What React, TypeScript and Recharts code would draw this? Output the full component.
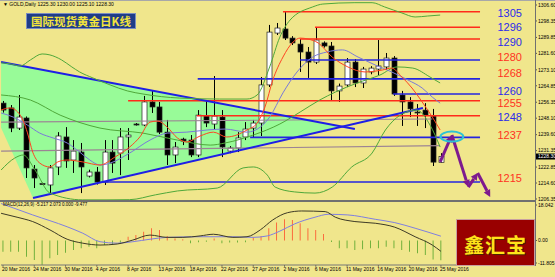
import React from 'react'
import { ComposedChart, Bar, Line, Area, XAxis, YAxis, ReferenceLine, ReferenceDot, Cell } from 'recharts'

// daily bars, broker feed with sunday sessions
const dates = [
  '20 Mar 2016', '21 Mar 2016', '22 Mar 2016', '23 Mar 2016', '24 Mar 2016', '27 Mar 2016', '28 Mar 2016', '29 Mar 2016',
  '30 Mar 2016', '31 Mar 2016', '1 Apr 2016', '3 Apr 2016', '4 Apr 2016', '5 Apr 2016', '6 Apr 2016', '7 Apr 2016',
  '8 Apr 2016', '10 Apr 2016', '11 Apr 2016', '12 Apr 2016', '13 Apr 2016', '14 Apr 2016', '15 Apr 2016', '17 Apr 2016',
  '18 Apr 2016', '19 Apr 2016', '20 Apr 2016', '21 Apr 2016', '22 Apr 2016', '24 Apr 2016', '25 Apr 2016', '26 Apr 2016',
  '27 Apr 2016', '28 Apr 2016', '29 Apr 2016', '1 May 2016', '2 May 2016', '3 May 2016', '4 May 2016', '5 May 2016',
  '6 May 2016', '8 May 2016', '9 May 2016', '10 May 2016', '11 May 2016', '12 May 2016', '13 May 2016', '15 May 2016',
  '16 May 2016', '17 May 2016', '18 May 2016', '19 May 2016', '20 May 2016', '22 May 2016', '23 May 2016', '24 May 2016',
  '25 May 2016',
]
const dateTicks = [0, 4, 8, 12, 16, 20, 24, 28, 32, 36, 40, 44, 48, 52, 56]

const open = [1255.9, 1253.4, 1243.0, 1248.2, 1221.8, 1214.3, 1213.6, 1222.9, 1238.4, 1226.5, 1230.6, 1218.2, 1220.3, 1215.1, 1230.6, 1230.1, 1238.4, 1245.1, 1244.6, 1256.5, 1253.9, 1240.9, 1229.1, 1237.3, 1236.8, 1229.1, 1249.2, 1245.1, 1248.7, 1231.1, 1232.7, 1238.4, 1243.0, 1245.6, 1265.3, 1292.1, 1294.2, 1289.5, 1286.4, 1282.3, 1277.1, 1287.0, 1285.4, 1262.2, 1265.3, 1277.1, 1266.3, 1272.0, 1273.5, 1274.6, 1279.2, 1260.1, 1256.5, 1251.3, 1252.3, 1249.2, 1225.3]
const high = [1257.0, 1254.9, 1260.1, 1249.0, 1223.9, 1214.8, 1223.9, 1240.9, 1243.5, 1236.8, 1235.3, 1221.5, 1222.9, 1236.8, 1236.8, 1243.0, 1243.0, 1245.6, 1259.6, 1262.2, 1256.5, 1247.2, 1235.8, 1238.0, 1239.4, 1252.3, 1257.0, 1269.9, 1252.3, 1233.7, 1240.9, 1246.1, 1247.2, 1269.4, 1296.3, 1297.3, 1303.0, 1290.5, 1289.0, 1284.9, 1295.2, 1287.8, 1287.5, 1266.0, 1279.2, 1278.7, 1274.6, 1275.0, 1288.5, 1281.8, 1280.2, 1262.2, 1259.0, 1255.4, 1255.9, 1252.9, 1230.0]
const low = [1251.0, 1240.9, 1242.0, 1217.2, 1212.0, 1213.6, 1208.9, 1218.7, 1222.4, 1219.8, 1209.4, 1217.5, 1213.8, 1213.6, 1219.8, 1218.7, 1226.5, 1244.3, 1244.0, 1250.8, 1239.9, 1223.9, 1224.9, 1234.2, 1228.0, 1228.0, 1243.5, 1242.0, 1228.0, 1230.0, 1230.6, 1236.8, 1238.4, 1238.9, 1264.2, 1291.1, 1288.5, 1285.9, 1272.0, 1268.9, 1276.1, 1284.6, 1257.5, 1256.5, 1264.2, 1264.2, 1263.7, 1270.8, 1270.4, 1273.0, 1259.6, 1244.1, 1248.7, 1244.1, 1243.0, 1223.4, 1225.1]
const close = [1252.3, 1243.0, 1248.7, 1222.4, 1217.2, 1214.0, 1222.4, 1238.9, 1226.0, 1231.1, 1222.9, 1220.3, 1215.1, 1230.6, 1224.9, 1238.4, 1239.4, 1244.8, 1256.5, 1253.9, 1240.9, 1229.1, 1233.2, 1236.3, 1229.1, 1249.7, 1245.6, 1249.2, 1233.2, 1232.7, 1237.9, 1242.5, 1245.6, 1265.3, 1292.6, 1294.7, 1289.5, 1287.0, 1282.3, 1277.1, 1288.5, 1285.4, 1262.2, 1264.7, 1277.1, 1266.3, 1273.5, 1274.0, 1275.1, 1279.2, 1260.6, 1256.5, 1252.9, 1250.8, 1249.7, 1225.4, 1228.3]

// MACD histogram per bar
const macdHist = [-5.4, -5.4, -5.4, -7.8, -9.4, -11.805, -8.6, -7.0, -5.9, -4.6, -3.8, -3.0, -3.8, -2.2, -2.2, -1.1, 1.8, 2.6, 4.2, 5.9, 5.1, 2.2, 1.0, 0.6, -1.3, -0.9, -0.6, 1.0, -1.3, -1.0, -1.0, -0.9, 1.5, 2.2, 5.9, 8.7, 10.2, 9.9, 8.3, 5.9, 5.1, 3.1, -0.7, -3.8, -3.8, -4.6, -4.2, -3.8, -3.8, -3.0, -3.8, -4.6, -5.4, -6.2, -7.0, -9.1, -9.477]

// indicator lines as [bar position, value]
const maFast = [[-0.25, 1252.3], [0.9, 1253.4], [2.2, 1249.7], [3.1, 1240.9], [3.8, 1230.6], [4.7, 1224.9], [6.0, 1222.9], [7.0, 1225.5], [8.2, 1226.5], [10.2, 1225.5], [12.4, 1223.9], [14.3, 1228.0], [16.2, 1233.2], [17.5, 1238.4], [18.8, 1246.1], [19.8, 1246.6], [21.0, 1243.5], [22.3, 1237.9], [23.5, 1235.8], [25.2, 1238.9], [26.9, 1240.9], [28.6, 1238.4], [31.2, 1242.0], [32.5, 1245.6], [33.5, 1253.9], [34.5, 1267.8], [35.8, 1279.7], [37.1, 1287.5], [38.0, 1289.5], [39.0, 1289.0], [40.3, 1287.0], [42.1, 1279.7], [44.1, 1274.6], [46.3, 1272.0], [48.5, 1273.0], [49.7, 1274.0], [51.0, 1269.4], [52.3, 1263.7], [53.6, 1256.5], [54.9, 1248.7], [55.9, 1242.0]]
const maSlow = [[-0.25, 1250.8], [1.3, 1248.7], [3.1, 1244.6], [4.7, 1240.4], [6.4, 1237.9], [8.2, 1235.3], [9.8, 1230.6], [11.1, 1226.5], [12.4, 1223.9], [13.7, 1224.9], [16.2, 1230.1], [18.8, 1236.8], [21.0, 1240.4], [23.5, 1240.9], [26.1, 1242.0], [28.4, 1242.5], [31.2, 1240.9], [32.9, 1243.5], [34.1, 1248.7], [35.8, 1261.2], [37.6, 1272.0], [39.6, 1279.7], [41.4, 1282.3], [43.4, 1283.4], [45.4, 1279.7], [47.6, 1275.6], [49.7, 1272.0], [51.8, 1267.8], [53.6, 1263.7], [54.9, 1259.0], [55.9, 1255.9]]
const bandUp = [[-0.25, 1276.7], [0.9, 1276.2], [2.2, 1275.1], [3.5, 1278.2], [5.0, 1281.3], [6.0, 1280.8], [7.5, 1278.2], [8.8, 1274.6], [9.8, 1272.0], [11.5, 1268.9], [13.7, 1265.3], [15.9, 1262.2], [17.9, 1260.6], [22.6, 1258.5], [27.7, 1258.0], [31.2, 1258.0], [32.5, 1260.1], [34.1, 1274.6], [35.4, 1290.0], [36.7, 1298.8], [39.6, 1305.6], [40.9, 1307.1], [45.0, 1307.8], [47.2, 1307.8], [48.8, 1305.6], [51.0, 1302.5], [52.7, 1300.4], [54.3, 1300.9], [55.9, 1301.4]]
const bandMid = [[-0.25, 1260.1], [3.5, 1257.5], [7.3, 1249.7], [12.4, 1243.0], [17.9, 1240.4], [22.3, 1236.8], [26.5, 1234.2], [28.4, 1235.3], [32.0, 1239.4], [35.4, 1245.1], [38.0, 1251.3], [40.5, 1257.5], [42.5, 1261.6], [45.3, 1266.3], [48.2, 1270.4], [50.4, 1274.6], [52.4, 1274.0], [54.6, 1269.4], [55.9, 1266.3]]
const bandLow = [[-0.25, 1221.3], [1.5, 1227.5], [2.6, 1229.1], [4.1, 1221.3], [6.0, 1209.4], [10.2, 1205.9], [13.3, 1205.9], [16.2, 1206.0], [19.5, 1208.5], [22.3, 1210.5], [27.4, 1212.0], [30.7, 1222.4], [32.0, 1222.9], [33.8, 1218.7], [34.8, 1212.5], [37.3, 1210.0], [39.9, 1209.4], [42.1, 1212.5], [44.6, 1222.9], [47.2, 1230.1], [48.9, 1242.0], [50.8, 1249.7], [52.9, 1252.3], [54.6, 1244.6], [55.9, 1233.2]]
const dif = [[-0.25, 13.1], [1.8, 11.2], [3.8, 9.1], [6.0, 5.1], [8.2, 0.6], [10.2, -1.3], [12.4, -2.2], [14.6, -1.7], [16.6, 0.2], [18.8, 2.6], [21.0, 1.5], [23.0, 1.5], [25.2, 2.2], [26.9, 3.0], [29.4, 1.5], [31.2, 1.8], [32.9, 5.1], [34.5, 9.9], [36.4, 13.4], [38.2, 14.2], [41.2, 13.9], [42.5, 11.2], [45.0, 9.1], [47.6, 8.3], [50.1, 6.4], [52.7, 1.8], [54.9, -2.2], [56, -5.217]]
const dea = [[-0.25, 17.8], [3.8, 12.3], [8.2, 6.6], [10.2, 3.5], [12.4, -0.6], [14.6, -1.3], [16.6, -0.6], [18.8, 0.6], [21.0, 1.5], [25.2, 1.8], [29.4, 1.8], [32.0, 1.5], [33.8, 2.2], [35.4, 4.5], [37.3, 8.0], [39.9, 11.2], [41.6, 12.6], [44.1, 12.3], [47.6, 10.2], [50.1, 8.6], [52.7, 5.9], [56, 2.073]]

// drawn objects: support / resistance levels and trend lines
const levelPrice = [1303.1, 1295.1, 1289.0, 1278.2, 1268.4, 1260.6, 1257.1, 1249.4, 1238.2, 1215.1]
const levelStart = [35.8, 39.9, 38.0, 38.0, 24.9, 49.9, 16.0, 24.8, 31.6, 12.8]
const levelEnd = 61.0
const levelStroke = ['#ff2a1a', '#ff2a1a', '#ff2a1a', '#2424e0', '#2424e0', '#2424e0', '#ff2a1a', '#ff2a1a', '#2424e0', '#2424e0']

const levelText = ['1305', '1296', '1290', '1280', '1268', '1260', '1255', '1248', '1237', '1215']
const levelTextAt = [1302.3, 1295.4, 1287.6, 1279.6, 1271.3, 1262.3, 1256.1, 1248.6, 1239.2, 1217.3]
const levelTextFill = ['#2b2bea', '#2b2bea', '#2b2bea', '#ff3322', '#ff3322', '#2b2bea', '#ff3322', '#2b2bea', '#ff3322', '#ff3322']

const trendDown = [[-0.25, 1277.1], [45.0, 1242.5]]
const trendUp = [[3.84, 1206.9], [53.7, 1253.4]]
const flatLines = [[[-0.25, 1246.1], [54.9, 1247.7]], [[-0.25, 1231.1], [55.9, 1233.9]]]
const wedge = [
  { i: -0.25, band: [1243.2, 1277.1] },
  { i: 3.84, band: [1206.9, 1274.0] },
  { i: 43.37, band: [1243.7, 1243.7] },
]
const forecast = [[55.9, 1225.5], [57.4, 1239.4], [59.5, 1212.5], [60.7, 1219.8], [62.3, 1207.4]]
const priceTicks = [1306.6, 1298.35, 1289.85, 1281.6, 1273.1, 1264.85, 1256.35, 1248.1, 1239.6, 1231.35, 1228.3, 1222.85, 1214.6, 1206.35]
const macdTicks = [18.042, 0, -11.805]
const lastClose = 1228.3

const candles = dates.map((d, i) => ({ i, o: open[i], h: high[i], l: low[i], c: close[i], hl: [low[i], high[i]] }))
const macdRows = macdHist.map((v, i) => ({ i, hist: v }))
const pts = (arr: number[][]) => arr.map(([i, v]) => ({ i, v }))

const FONT = '"Liberation Sans", Arial, sans-serif'
const X_DOMAIN = [-0.256, 68.03]

function Candle(props: any) {
  const { x, y, width, height, payload } = props
  const top = height < 0 ? y + height : y
  const hgt = Math.abs(height)
  const { o, h, l, c } = payload
  const k = h > l ? hgt / (h - l) : 0
  const yOf = (p: number) => top + (h - p) * k
  const cx = Math.round(x + (width || 0) / 2) + 0.5
  const bTop = yOf(Math.max(o, c))
  const bBot = yOf(Math.min(o, c))
  const up = c > o
  return (
    <g>
      <line x1={cx} x2={cx} y1={top} y2={top + hgt} stroke="#000" strokeWidth={1} />
      <rect x={cx - 2.5} y={bTop} width={5} height={Math.max(bBot - bTop, 1)} fill={up ? '#fff' : '#000'} stroke="#222" strokeWidth={0.7} />
    </g>
  )
}

function Arrow(p: any) {
  const { x1, y1, x2, y2 } = p
  const a = Math.atan2(y2 - y1, x2 - x1)
  const bx = x2 - 7 * Math.cos(a)
  const by = y2 - 7 * Math.sin(a)
  const nx = -Math.sin(a) * 3.6
  const ny = Math.cos(a) * 3.6
  return (
    <g>
      <line x1={x1} y1={y1} x2={bx} y2={by} stroke="#7d1a8e" strokeWidth={3} />
      <polygon points={`${x2},${y2} ${bx + nx},${by + ny} ${bx - nx},${by - ny}`} fill="#7d1a8e" />
    </g>
  )
}

function PriceTick(props: any) {
  const { x, y, payload } = props
  const v = payload.value
  const cur = v === lastClose
  return (
    <g>
      <line x1={x} x2={x + 2} y1={y} y2={y} stroke="#000" strokeWidth={0.6} />
      {cur && <rect x={x + 1} y={y - 3} width={22} height={6} fill="#000" />}
      <text x={x + 3} y={y + 1.8} fontSize={5} fontFamily={FONT} fill={cur ? '#fff' : '#000'}>{v.toFixed(2)}</text>
    </g>
  )
}

function MacdTick(props: any) {
  const { x, y, payload } = props
  const v = payload.value
  const dy = v > 0 ? 2 : v < 0 ? -2 : 0
  return (
    <g>
      <line x1={x} x2={x + 2} y1={y + dy} y2={y + dy} stroke="#000" strokeWidth={0.6} />
      <text x={x + 3} y={y + dy + 1.8} fontSize={5} fontFamily={FONT} fill="#000">{v === 0 ? '0.00' : String(v)}</text>
    </g>
  )
}

function DateTick(props: any) {
  const { x, y, payload } = props
  return (
    <g>
      <line x1={x} x2={x} y1={y} y2={y + 2} stroke="#444" strokeWidth={0.6} />
      <text x={x - 1} y={y + 6.2} fontSize={5} fontFamily={FONT} fill="#000">{dates[payload.value]}</text>
    </g>
  )
}

export default function App() {
  return (
    <div style={{ position: 'absolute', left: 0, top: 0, width: 555, height: 277, background: '#F0E68C', overflow: 'hidden' }}>
      <div style={{ position: 'absolute', left: 0, top: 0 }}>
        <ComposedChart width={555} height={201} data={candles} margin={{ top: 2, right: 0, bottom: 1, left: 1 }}>
          <XAxis dataKey="i" type="number" domain={X_DOMAIN} allowDataOverflow hide />
          <YAxis orientation="right" width={20} domain={[1205.83, 1308.15]} allowDataOverflow ticks={priceTicks}
            interval={0} tick={<PriceTick />} tickSize={0} tickMargin={0} tickLine={false} axisLine={false} />
          <Area data={wedge} dataKey="band" type="linear" fill="#98FB98" fillOpacity={1} stroke="none" isAnimationActive={false} />
          {flatLines.map((s, k) => (
            <ReferenceLine key={'f' + k} segment={[{ x: s[0][0], y: s[0][1] }, { x: s[1][0], y: s[1][1] }]}
              stroke="#9c8494" strokeWidth={1.2} ifOverflow="visible" />
          ))}
          {levelPrice.map((p, k) => (
            <ReferenceLine key={'l' + k} segment={[{ x: levelStart[k], y: p }, { x: levelEnd, y: p }]}
              stroke={levelStroke[k]} strokeWidth={1.6} ifOverflow="visible" />
          ))}
          <ReferenceLine segment={[{ x: trendDown[0][0], y: trendDown[0][1] }, { x: trendDown[1][0], y: trendDown[1][1] }]}
            stroke="#1e1ee6" strokeWidth={2} ifOverflow="visible" />
          <ReferenceLine segment={[{ x: trendUp[0][0], y: trendUp[0][1] }, { x: trendUp[1][0], y: trendUp[1][1] }]}
            stroke="#1e1ee6" strokeWidth={2} ifOverflow="visible" />
          <Bar dataKey="hl" barSize={5} shape={(p: any) => <Candle {...p} />} isAnimationActive={false} />
          <Line data={pts(bandUp)} dataKey="v" type="monotone" stroke="#4fa83a" strokeWidth={1} dot={false} isAnimationActive={false} />
          <Line data={pts(bandMid)} dataKey="v" type="monotone" stroke="#4fa83a" strokeWidth={1} dot={false} isAnimationActive={false} />
          <Line data={pts(bandLow)} dataKey="v" type="monotone" stroke="#4fa83a" strokeWidth={1} dot={false} isAnimationActive={false} />
          <Line data={pts(maSlow)} dataKey="v" type="monotone" stroke="#7a7ad8" strokeWidth={1} dot={false} isAnimationActive={false} />
          <Line data={pts(maFast)} dataKey="v" type="monotone" stroke="#ff4422" strokeWidth={1} dot={false} isAnimationActive={false} />
          {forecast.slice(1).map((pt, k) => (
            <ReferenceLine key={'a' + k} segment={[{ x: forecast[k][0], y: forecast[k][1] }, { x: pt[0], y: pt[1] }]}
              ifOverflow="visible" shape={(p: any) => <Arrow {...p} />} />
          ))}
          <ReferenceDot x={57.4} y={1238.6} r={0} ifOverflow="visible"
            shape={(p: any) => <ellipse cx={p.cx} cy={p.cy} rx={11.5} ry={5} fill="none" stroke="#2cc3d4" strokeWidth={2} />} />
          {levelText.map((t, k) => (
            <ReferenceDot key={'t' + k} x={64.8} y={levelTextAt[k]} r={0} ifOverflow="visible"
              shape={(p: any) => (
                <text x={p.cx} y={p.cy} dy={4} textAnchor="middle" fontSize={11} fontFamily={FONT} fill={levelTextFill[k]}>{t}</text>
              )} />
          ))}
        </ComposedChart>
      </div>

      <div style={{ position: 'absolute', left: 0, top: 202 }}>
        <ComposedChart width={555} height={75} data={macdRows} margin={{ top: 1, right: 0, bottom: 0, left: 1 }}>
          <XAxis dataKey="i" type="number" domain={X_DOMAIN} allowDataOverflow ticks={dateTicks} interval={0}
            height={12} tick={<DateTick />} tickSize={0} tickMargin={0} tickLine={false} axisLine={{ stroke: '#777', strokeWidth: 1 }} />
          <YAxis orientation="right" width={20} domain={[-11.805, 18.042]} allowDataOverflow ticks={macdTicks}
            interval={0} tick={<MacdTick />} tickSize={0} tickMargin={0} tickLine={false} axisLine={false} />
          <Bar dataKey="hist" barSize={2} isAnimationActive={false}>
            {macdRows.map((r) => (
              <Cell key={r.i} fill={r.hist >= 0 ? '#ff3a1e' : '#3c9a1c'} />
            ))}
          </Bar>
          <Line data={pts(dea)} dataKey="v" type="monotone" stroke="#7f7fe0" strokeWidth={1} dot={false} isAnimationActive={false} />
          <Line data={pts(dif)} dataKey="v" type="monotone" stroke="#3d3a26" strokeWidth={1} dot={false} isAnimationActive={false} />
        </ComposedChart>
      </div>

      {/* frame lines */}
      <div style={{ position: 'absolute', left: 0, top: 0, width: 555, height: 1, background: '#a8a8a8' }} />
      <div style={{ position: 'absolute', left: 0, top: 200, width: 536, height: 2, background: '#707070' }} />
      <div style={{ position: 'absolute', left: 535, top: 0, width: 1, height: 266, background: '#707070' }} />

      <div style={{ position: 'absolute', left: 3, top: 1, fontSize: 5, fontFamily: FONT, color: '#000', whiteSpace: 'nowrap', lineHeight: '7px' }}>
        ▼ GOLD,Daily 1225.30 1230.00 1225.10 1228.30
      </div>
      <div style={{
        position: 'absolute', left: 26, top: 13, width: 108, height: 14, background: '#1f3c88', border: '1px solid #7a8cc0',
        color: '#f2e43c', fontFamily: '"Noto Sans CJK SC", sans-serif', fontWeight: 700, fontSize: 11.5, lineHeight: '14px',
        textAlign: 'center', whiteSpace: 'nowrap',
      }}>
        国际现货黄金日K线
      </div>
      <div style={{ position: 'absolute', left: 3, top: 202, fontSize: 4.5, fontFamily: FONT, color: '#000', whiteSpace: 'nowrap', lineHeight: '6px' }}>
        MACD(12,26,9) -5.217 2.073 0.000 -9.477
      </div>
      <div style={{
        position: 'absolute', left: 456, top: 219, width: 77, height: 45, background: '#990000', border: '1px solid #c8a0a0',
        color: '#ffe21a', fontFamily: '"Noto Sans CJK SC", sans-serif', fontWeight: 700, fontSize: 20, lineHeight: '50px',
        textAlign: 'center', letterSpacing: 1, textShadow: '1px 1px 0 #4a2200',
      }}>
        鑫汇宝
      </div>
    </div>
  )
}
